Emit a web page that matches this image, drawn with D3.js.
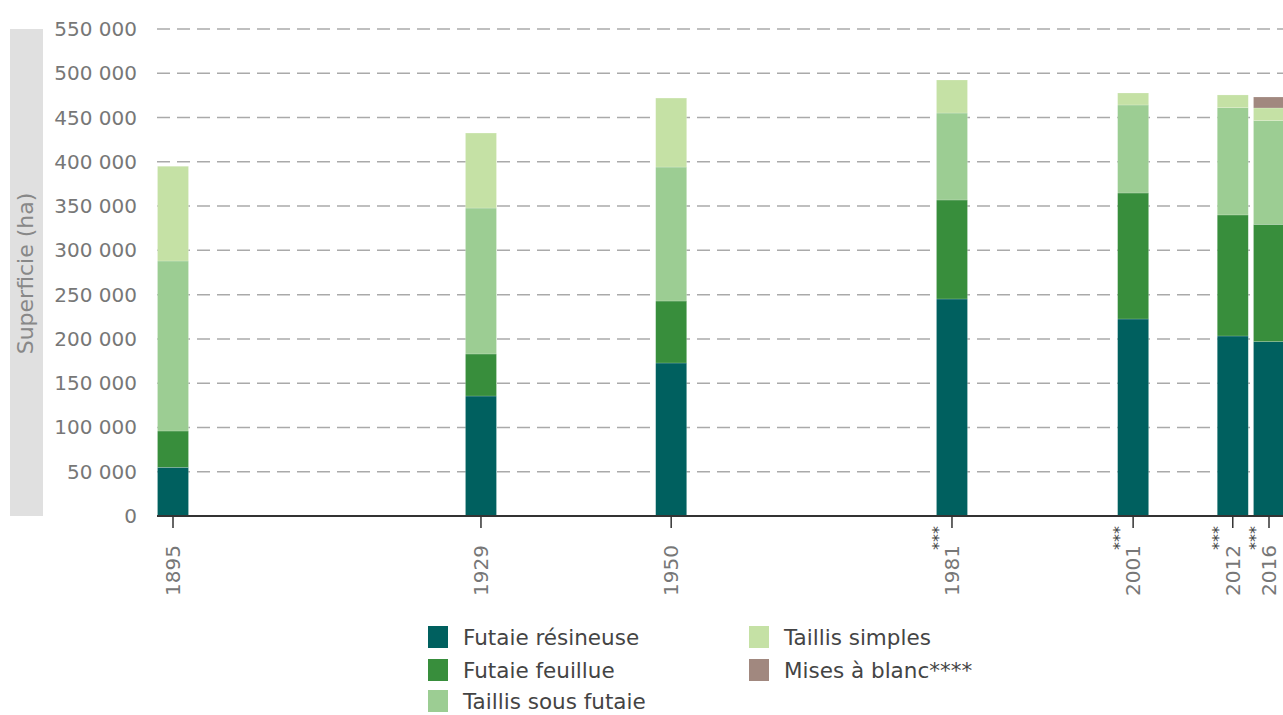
<!DOCTYPE html>
<html>
<head>
<meta charset="utf-8">
<script src="https://cdn.jsdelivr.net/npm/d3@7"></script>
<style>
  body { margin: 0; background: #fff; }
  svg { display: block; font-family: "DejaVu Sans", sans-serif; }
</style>
</head>
<body>
<svg id="chart" width="1283" height="715"></svg>
<script>
var years = [1895, 1929, 1950, 1981, 2001, 2012, 2016]
var starred = [1981, 2001, 2012, 2016]
var series = ['Futaie résineuse', 'Futaie feuillue', 'Taillis sous futaie', 'Taillis simples', 'Mises à blanc****']
var colors = ['#00605f', '#388e3c', '#9ccd93', '#c5e1a5', '#a1887f']

// surfaces en ha
var resineuse = [55000, 135500, 172800, 245100, 222500, 203300, 196900]
var feuillue = [41000, 47500, 70000, 111800, 142300, 136700, 132500]
var sousFutaie = [192000, 164800, 151300, 98200, 99400, 121100, 117100]
var simples = [107000, 84700, 77900, 37300, 13500, 14400, 14300]
var misesBlanc = [0, 0, 0, 0, 0, 0, 12400]
var yTicks = [0, 50000, 100000, 150000, 200000, 250000, 300000, 350000, 400000, 450000, 500000, 550000]

var rows = years.map(function (y, i) {
  return { year: y, s0: resineuse[i], s1: feuillue[i], s2: sousFutaie[i], s3: simples[i], s4: misesBlanc[i] }
})

var svg = d3.select('#chart')
var x = d3.scaleLinear().domain([1895, 2016]).range([173, 1269])
var y = d3.scaleLinear().domain([0, 550000]).range([516, 29])
var BAR = 31
var fmt = d3.formatLocale({ decimal: ',', thousands: ' ', grouping: [3], currency: ['', ' €'] }).format(',')

// bandeau du titre vertical
svg.append('rect')
  .attr('x', 10).attr('y', y(550000))
  .attr('width', 33).attr('height', y(0) - y(550000))
  .attr('fill', '#e0e0e0')
svg.append('text')
  .attr('transform', 'translate(25,' + ((y(0) + y(550000)) / 2 + 1) + ') rotate(-90)')
  .attr('text-anchor', 'middle')
  .attr('dy', '0.35em')
  .attr('fill', '#888')
  .style('font-size', '22px')
  .text('Superficie (ha)')

// grille
svg.append('g').selectAll('line')
  .data(yTicks.filter(function (d) { return d > 0 }))
  .join('line')
  .attr('x1', 157).attr('x2', 1283)
  .attr('y1', function (d) { return y(d) }).attr('y2', function (d) { return y(d) })
  .attr('stroke', '#aaa').attr('stroke-width', 1.5)
  .attr('stroke-dasharray', '13,7')

svg.append('g').selectAll('text')
  .data(yTicks)
  .join('text')
  .attr('x', 137).attr('y', function (d) { return y(d) })
  .attr('dy', '0.35em')
  .attr('text-anchor', 'end')
  .attr('fill', '#777')
  .style('font-size', '20px')
  .text(function (d) { return fmt(d) })

// barres empilées
var stacked = d3.stack().keys(['s0', 's1', 's2', 's3', 's4'])(rows)
svg.append('g').selectAll('g')
  .data(stacked)
  .join('g')
  .attr('fill', function (d, i) { return colors[i] })
  .selectAll('rect')
  .data(function (d) { return d.filter(function (p) { return p[1] > p[0] }) })
  .join('rect')
  .attr('x', function (d) { return x(d.data.year) - BAR / 2 })
  .attr('width', BAR)
  .attr('y', function (d) { return y(d[1]) })
  .attr('height', function (d) { return y(d[0]) - y(d[1]) })
  .attr('stroke', '#fff').attr('stroke-opacity', 0.3).attr('stroke-width', 0.6)

// axe des x
svg.append('line')
  .attr('x1', 157).attr('x2', 1283)
  .attr('y1', y(0)).attr('y2', y(0))
  .attr('stroke', '#333').attr('stroke-width', 2)

var xg = svg.append('g').selectAll('g')
  .data(years)
  .join('g')
  .attr('transform', function (d) { return 'translate(' + x(d) + ',0)' })
xg.append('line')
  .attr('y1', y(0)).attr('y2', y(0) + 12)
  .attr('stroke', '#333').attr('stroke-width', 1.5)
xg.append('text')
  .attr('transform', 'translate(0,' + (y(0) + 29) + ') rotate(-90)')
  .attr('text-anchor', 'end')
  .attr('dy', '0.35em')
  .attr('fill', '#777')
  .style('font-size', '20px')
  .text(function (d) { return d })
xg.filter(function (d) { return starred.indexOf(d) >= 0 })
  .append('text')
  .attr('transform', 'translate(-14,' + (y(0) + 34) + ') rotate(-90)')
  .attr('text-anchor', 'start')
  .attr('dy', '0.35em')
  .attr('fill', '#444')
  .style('font-size', '16px')
  .text('***')

// légende
var legendPos = [[428, 637], [428, 670], [428, 701], [749, 637], [749, 670]]
var lg = svg.append('g').selectAll('g')
  .data(series)
  .join('g')
  .attr('transform', function (d, i) { return 'translate(' + legendPos[i][0] + ',' + legendPos[i][1] + ')' })
lg.append('rect')
  .attr('x', 0).attr('y', -11).attr('width', 20).attr('height', 22)
  .attr('fill', function (d, i) { return colors[i] })
lg.append('text')
  .attr('x', 35).attr('dy', '0.35em')
  .attr('fill', '#444')
  .style('font-size', '21.5px')
  .text(function (d) { return d })
</script>
</body>
</html>
